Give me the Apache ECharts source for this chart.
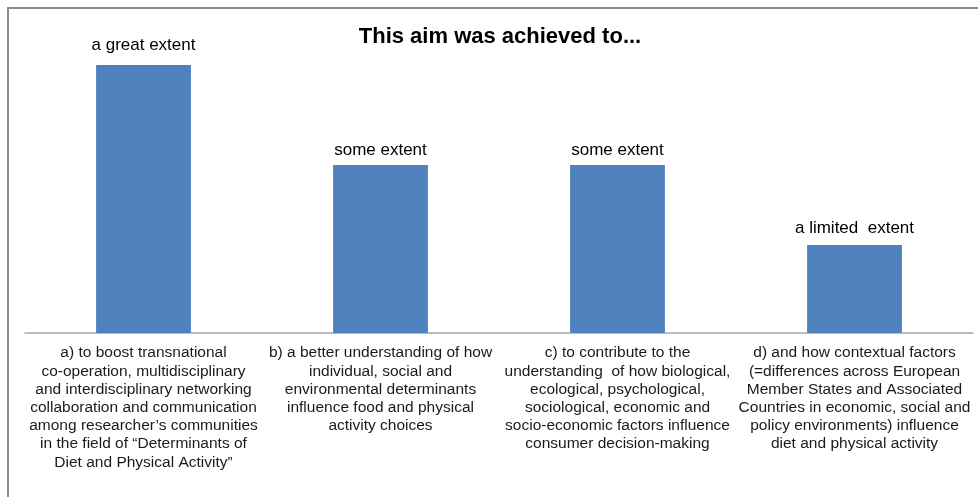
<!DOCTYPE html>
<html>
<head>
<meta charset="utf-8">
<script src="https://cdn.jsdelivr.net/npm/echarts@6/dist/echarts.min.js"></script>
<style>html,body{margin:0;padding:0;background:#fff;}#c{width:978px;height:497px;}</style>
</head>
<body>
<div id="c"></div>
<script>
const titleText = 'This aim was achieved to...';
const categories = [
  'a) to boost transnational\nco-operation, multidisciplinary\nand interdisciplinary networking\ncollaboration and communication\namong researcher\u2019s communities\nin the field of \u201cDeterminants of\nDiet and Physical Activity\u201d',
  'b) a better understanding of how\nindividual, social and\nenvironmental determinants\ninfluence food and physical\nactivity choices',
  'c) to contribute to the\nunderstanding  of how biological,\necological, psychological,\nsociological, economic and\nsocio-economic factors influence\nconsumer decision-making',
  'd) and how contextual factors\n(=differences across European\nMember States and Associated\nCountries in economic, social and\npolicy environments) influence\ndiet and physical activity'
];
const values = [67, 42, 42, 22];
const barLabels = ['a great extent', 'some extent', 'some extent', 'a limited  extent'];

// label offsets above bar tops (styling, not data)
const labelGap = [11, 6.5, 6.5, 8];

const chart = echarts.init(document.getElementById('c'), null, {renderer: 'canvas'});
chart.setOption({
  backgroundColor: '#ffffff',
  animation: false,
  title: {
    text: titleText,
    left: 495, top: 21, textAlign: 'center',
    textStyle: {fontFamily: 'Liberation Sans, Arial, sans-serif', fontSize: 22, fontWeight: 'bold', color: '#000'}
  },
  graphic: [{
    type: 'polyline',
    shape: {points: [[8, 520], [8, 8], [1000, 8]]},
    style: {stroke: '#8c8c8c', lineWidth: 2, fill: null},
    silent: true
  }],
  grid: {left: 25, right: 5, top: 13, bottom: 164, containLabel: false},
  xAxis: {
    type: 'category',
    data: categories,
    axisLine: {show: true, lineStyle: {color: '#a6a6a6', width: 1.5}},
    axisTick: {show: false},
    axisLabel: {
      interval: 0, margin: 11, color: '#1a1a1a', lineHeight: 18.2,
      fontFamily: 'Liberation Sans, Arial, sans-serif', fontSize: 15.5, align: 'center'
    }
  },
  yAxis: {
    type: 'value', min: 0, max: 80,
    show: false, splitLine: {show: false}
  },
  series: [{
    type: 'bar',
    data: values.map((v, i) => ({value: v, label: {distance: labelGap[i]}})),
    barWidth: '40%',
    itemStyle: {color: '#4f81bd'},
    label: {
      show: true, position: 'top',
      fontFamily: 'Liberation Sans, Arial, sans-serif', fontSize: 17, color: '#000',
      formatter: p => barLabels[p.dataIndex]
    }
  }]
});
</script>
</body>
</html>
